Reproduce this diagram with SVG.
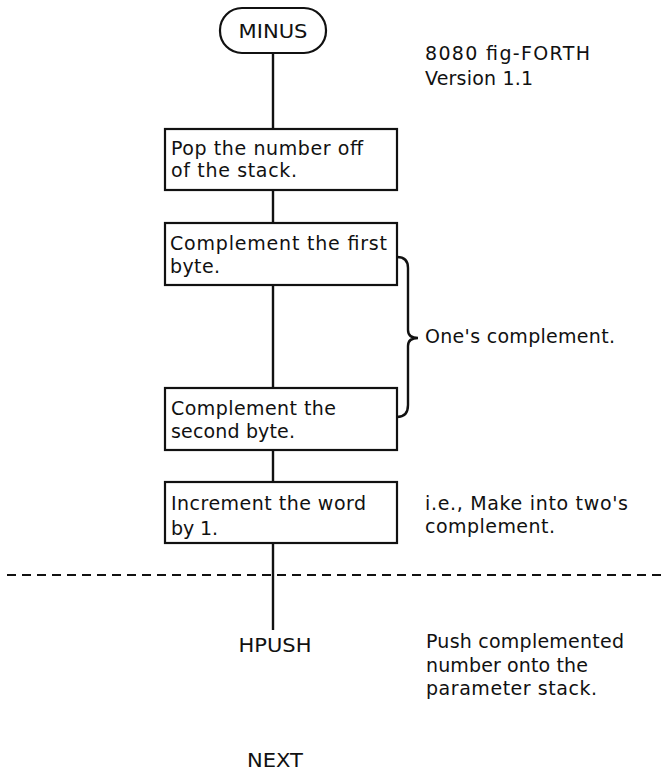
<svg xmlns="http://www.w3.org/2000/svg" width="662" height="773" viewBox="0 0 662 773">
<style>
  text { font-family: "DejaVu Sans", "Liberation Sans", sans-serif; font-size: 19px; fill: #111; }
  .box { fill: #fff; stroke: #111; stroke-width: 2.2; }
  .line { stroke: #111; stroke-width: 2.4; fill: none; }
  .dash { stroke: #111; stroke-width: 2; stroke-dasharray: 9 6; fill: none; }
  .mid { text-anchor: middle; }
</style>
<rect width="662" height="773" fill="#fff"/>
<g id="connectors">
  <line class="line" x1="273" y1="53" x2="273" y2="129"/>
  <line class="line" x1="273" y1="190" x2="273" y2="223"/>
  <line class="line" x1="273" y1="285" x2="273" y2="388"/>
  <line class="line" x1="273" y1="450" x2="273" y2="482"/>
  <line class="line" x1="273" y1="543" x2="273" y2="630"/>
  <line class="dash" x1="7" y1="575" x2="662" y2="575"/>
  <path class="line" d="M397,257 Q408,257 408,268 L408,330 Q408,338 418,338 Q408,338 408,346 L408,405 Q408,417 397,417"/>
</g>
<g id="minus">
  <rect class="box" x="220" y="8" width="106" height="45" rx="22" ry="22"/>
  <text class="mid" x="273" y="38" textLength="69" lengthAdjust="spacingAndGlyphs">MINUS</text>
</g>
<g id="title">
  <text x="425" y="60" textLength="165" lengthAdjust="spacing">8080 fig-FORTH</text>
  <text x="425" y="85" textLength="108" lengthAdjust="spacing">Version 1.1</text>
</g>
<g id="pop">
  <rect class="box" x="165" y="129" width="232" height="61"/>
  <text x="171" y="155" textLength="192" lengthAdjust="spacing">Pop the number off</text>
  <text x="171" y="177" textLength="126" lengthAdjust="spacing">of the stack.</text>
</g>
<g id="comp1">
  <rect class="box" x="165" y="223" width="232" height="62"/>
  <text x="170" y="250" textLength="217" lengthAdjust="spacing">Complement the first</text>
  <text x="170" y="273" textLength="50" lengthAdjust="spacing">byte.</text>
</g>
<g id="ones">
  <text x="425" y="343" textLength="190" lengthAdjust="spacing">One's complement.</text>
</g>
<g id="comp2">
  <rect class="box" x="165" y="388" width="232" height="62"/>
  <text x="171" y="415" textLength="165" lengthAdjust="spacing">Complement the</text>
  <text x="171" y="438" textLength="124" lengthAdjust="spacing">second byte.</text>
</g>
<g id="incr">
  <rect class="box" x="165" y="482" width="232" height="61"/>
  <text x="171" y="510" textLength="195" lengthAdjust="spacing">Increment the word</text>
  <text x="171" y="535" textLength="47" lengthAdjust="spacing">by 1.</text>
</g>
<g id="twos">
  <text x="425" y="510" textLength="203" lengthAdjust="spacing">i.e., Make into two's</text>
  <text x="425" y="533" textLength="130" lengthAdjust="spacing">complement.</text>
</g>
<g id="hpush">
  <text class="mid" x="275" y="652" textLength="73" lengthAdjust="spacingAndGlyphs">HPUSH</text>
</g>
<g id="push-note">
  <text x="426" y="648" textLength="198" lengthAdjust="spacing">Push complemented</text>
  <text x="426" y="672" textLength="162" lengthAdjust="spacing">number onto the</text>
  <text x="426" y="695" textLength="171" lengthAdjust="spacing">parameter stack.</text>
</g>
<g id="next">
  <text class="mid" x="275" y="767" textLength="56" lengthAdjust="spacingAndGlyphs">NEXT</text>
</g>
</svg>
